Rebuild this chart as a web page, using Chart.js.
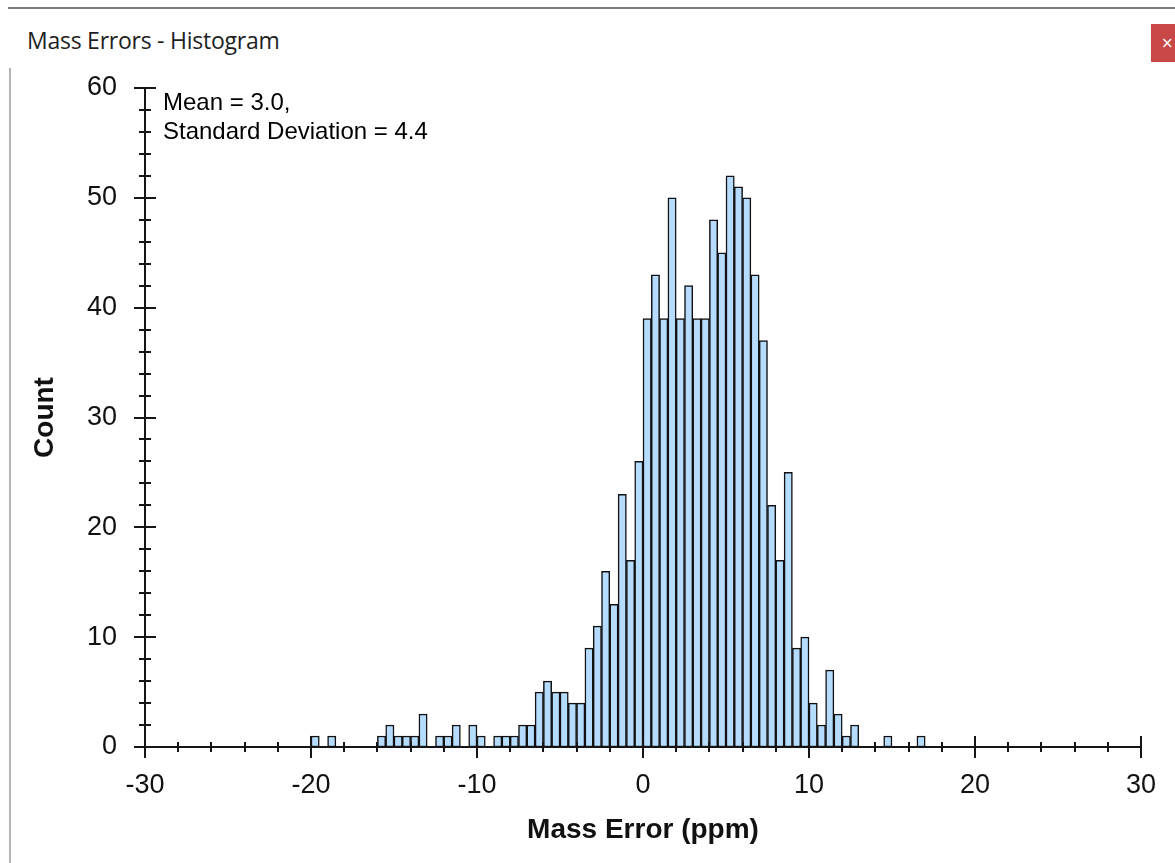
<!DOCTYPE html>
<html>
<head>
<meta charset="utf-8">
<title>Mass Errors - Histogram</title>
<script src="https://cdn.jsdelivr.net/npm/chart.js@4.4.1/dist/chart.umd.min.js"></script>
<style>
  html, body { margin: 0; padding: 0; background: #fff; overflow: hidden; }
  body { width: 1175px; height: 863px; position: relative; }
  #wrap { position: absolute; left: 0; top: 0; width: 1175px; height: 863px; }
  .topline { position: absolute; left: 8px; right: 0; top: 7px; height: 2px; background: #7b7b7b; }
  .leftline { position: absolute; left: 9px; top: 68px; bottom: 0; width: 2px; background: #b4b4b4; }
  .wintitle { position: absolute; left: 27px; top: 24px; font-family: 'Open Sans', sans-serif; font-size: 23px; color: #1e1e1e; letter-spacing: -0.25px; }
  .close { position: absolute; left: 1151px; top: 24px; width: 30px; height: 38px; background: #c74846; color: #fff;
           font-family: 'DejaVu Sans', sans-serif; font-size: 15px; line-height: 38px; padding-left: 10px; box-sizing: border-box; }
</style>
</head>
<body>
<div class="topline"></div>
<div class="wintitle">Mass Errors - Histogram</div>
<div class="close">×</div>
<div id="wrap"><canvas id="histChart"></canvas></div>
<div class="leftline"></div>
<script>
// ============================================================================
// Histogram data (bins of 0.5 ppm, first bin starts at -20 ppm)
// ============================================================================

const binStart = -20;
const binWidth = 0.5;
const counts = [
    1, 0, 1, 0, 0, 0, 0, 0,
    1, 2, 1, 1, 1, 3, 0, 1,
    1, 2, 0, 2, 1, 0, 1, 1,
    1, 2, 2, 5, 6, 5, 5, 4,
    4, 9, 11, 16, 13, 23, 17, 26,
    39, 43, 39, 50, 39, 42, 39, 39,
    48, 45, 52, 51, 50, 43, 37, 22,
    17, 25, 9, 10, 4, 2, 7, 3,
    1, 2, 0, 0, 0, 1, 0, 0,
    0, 1
];

const xRange = [-30, 30];
const yRange = [0, 60];
const statsLines = ['Mean = 3.0,', 'Standard Deviation = 4.4'];

const AXIS_COLOR = '#151515';
const FONT = '"Liberation Sans", Arial, sans-serif';

// punts al centre de cada bin, sense els bins buits
const points = counts
    .map((c, i) => ({ x: binStart + (i + 0.5) * binWidth, y: c }))
    .filter(p => p.y > 0);

// Ticks que creuen l'eix (majors cada 10, menors cada 2)
const crossTicks = {
    id: 'crossTicks',
    afterDraw(chart) {
        const ctx = chart.ctx;
        const xs = chart.scales.x;
        const ys = chart.scales.y;
        ctx.save();
        ctx.strokeStyle = AXIS_COLOR;
        ctx.lineWidth = 2;
        ctx.beginPath();
        xs.ticks.forEach(t => {
            const px = Math.round(xs.getPixelForValue(t.value));
            const len = t.value % 10 === 0 ? 11 : 5;
            ctx.moveTo(px, ys.bottom - len);
            ctx.lineTo(px, ys.bottom + len);
        });
        ys.ticks.forEach(t => {
            const py = Math.round(ys.getPixelForValue(t.value));
            const len = t.value % 10 === 0 ? 11 : 6;
            ctx.moveTo(xs.left - len, py);
            ctx.lineTo(xs.left + len, py);
        });
        ctx.stroke();
        ctx.restore();
    }
};

// Text de les estadístiques dins l'àrea del gràfic
const statsText = {
    id: 'statsText',
    afterDraw(chart) {
        const ctx = chart.ctx;
        const area = chart.chartArea;
        ctx.save();
        ctx.fillStyle = '#000';
        ctx.font = '24px ' + FONT;
        ctx.textBaseline = 'middle';
        ctx.textAlign = 'left';
        statsLines.forEach((line, i) => {
            ctx.fillText(line, area.left + 18, area.top + 15 + i * 29);
        });
        ctx.restore();
    }
};

const ctx = document.getElementById('histChart').getContext('2d');

new Chart(ctx, {
    type: 'bar',
    data: {
        datasets: [{
            label: 'Count',
            data: points,
            backgroundColor: '#b5dbff',
            borderColor: '#111',
            borderWidth: 1.5,
            borderSkipped: false,
            barPercentage: 1,
            categoryPercentage: 1
        }]
    },
    options: {
        responsive: true,
        maintainAspectRatio: false,
        animation: false,
        layout: { padding: { left: 12, right: 34, top: 88, bottom: 0 } },
        plugins: {
            legend: { display: false },
            tooltip: { enabled: false }
        },
        scales: {
            x: {
                type: 'linear',
                min: xRange[0],
                max: xRange[1],
                offset: false,
                grid: { display: false, drawTicks: false },
                border: { display: true, color: AXIS_COLOR, width: 2 },
                ticks: {
                    stepSize: 2,
                    autoSkip: false,
                    maxRotation: 0,
                    padding: 22,
                    color: '#111',
                    font: { family: FONT, size: 27 },
                    callback: v => (v % 10 === 0 ? String(v) : '')
                },
                title: {
                    display: true,
                    text: 'Mass Error (ppm)',
                    color: '#111',
                    font: { family: FONT, size: 28, weight: 'bold' },
                    padding: { top: 0, bottom: 16 }
                },
                afterFit: s => {
                    s.height = 116;
                    s.paddingLeft = 0;
                    s.paddingRight = 0;
                }
            },
            y: {
                min: yRange[0],
                max: yRange[1],
                grid: { display: false, drawTicks: false },
                border: { display: true, color: AXIS_COLOR, width: 2 },
                ticks: {
                    stepSize: 2,
                    autoSkip: false,
                    padding: 28,
                    color: '#111',
                    font: { family: FONT, size: 27 },
                    callback: v => (v % 10 === 0 ? String(v) : '')
                },
                title: {
                    display: true,
                    text: 'Count',
                    color: '#111',
                    font: { family: FONT, size: 28, weight: 'bold' },
                    padding: { top: 16, bottom: 0 }
                },
                afterFit: s => { s.width = 133; }
            }
        }
    },
    plugins: [crossTicks, statsText]
});
</script>
</body>
</html>
